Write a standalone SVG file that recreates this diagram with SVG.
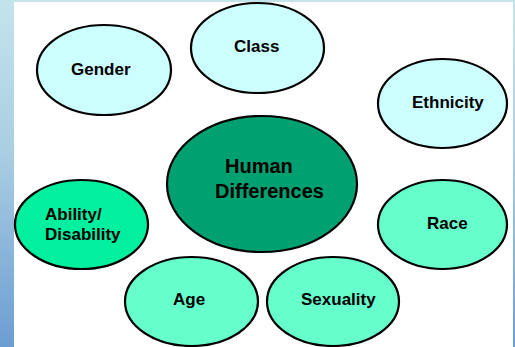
<svg xmlns="http://www.w3.org/2000/svg" width="515" height="347" viewBox="0 0 515 347">
<defs>
<linearGradient id="bg" x1="0" y1="0" x2="0" y2="1">
<stop offset="0" stop-color="#C4E4EC"/>
<stop offset="0.45" stop-color="#A9CDE2"/>
<stop offset="1" stop-color="#6C9DD2"/>
</linearGradient>
<style>
.n{stroke:#000;stroke-width:2.2}
.c1{fill:#CCFFFF}
.c2{fill:#66FFCC}
.c3{fill:#00F0A0}
.c4{fill:#00A070}
text{font-family:"Liberation Sans",Arial,sans-serif;font-weight:bold;fill:#000;font-size:17px}
.big{font-size:20px}
</style>
</defs>
<rect x="0" y="0" width="515" height="347" fill="url(#bg)"/>
<rect x="14" y="2" width="499" height="345" fill="#FFFFFF"/>
<g id="connectors"/>
<g id="gender"><ellipse class="n c1" cx="104" cy="70" rx="67" ry="45"/><text x="71" y="75">Gender</text></g>
<g id="class"><ellipse class="n c1" cx="257.5" cy="48" rx="66.5" ry="45"/><text x="234" y="52">Class</text></g>
<g id="ethnicity"><ellipse class="n c1" cx="442.5" cy="103.5" rx="64.5" ry="44.5"/><text x="412" y="108">Ethnicity</text></g>
<g id="human-differences"><ellipse class="n c4" cx="262" cy="184" rx="95" ry="68"/><text class="big" x="225" y="173">Human</text><text class="big" x="215" y="198">Differences</text></g>
<g id="ability"><ellipse class="n c3" cx="81.5" cy="224.5" rx="66.5" ry="44.5"/><text x="45" y="220">Ability/</text><text x="45" y="240">Disability</text></g>
<g id="race"><ellipse class="n c2" cx="442.5" cy="224.5" rx="64.5" ry="44.5"/><text x="427" y="229">Race</text></g>
<g id="age"><ellipse class="n c2" cx="191.5" cy="301.5" rx="66.5" ry="44.5"/><text x="173" y="305">Age</text></g>
<g id="sexuality"><ellipse class="n c2" cx="333" cy="301.5" rx="66" ry="44.5"/><text x="301" y="305">Sexuality</text></g>
</svg>
